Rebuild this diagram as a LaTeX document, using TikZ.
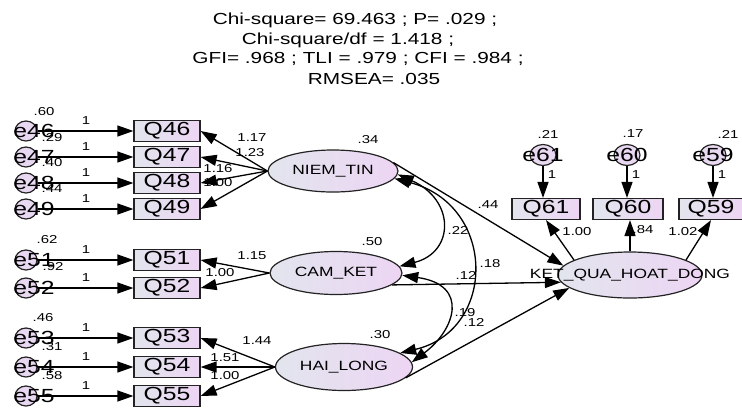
\documentclass[tikz,border=0pt]{standalone}
\usepackage{fontspec}
\setmainfont[FakeStretch=1.3]{Liberation Sans}
\usetikzlibrary{arrows.meta,shapes.geometric,calc}
\definecolor{boxl}{RGB}{226,229,238}
\definecolor{boxr}{RGB}{237,213,243}
\definecolor{errc}{RGB}{233,216,241}
\definecolor{edge}{RGB}{35,35,35}
\begin{document}
\begin{tikzpicture}[x=1pt,y=-1pt,
  obs/.style={draw=edge, line width=1.2pt, minimum width=66pt, minimum height=21pt, inner sep=0pt, left color=boxl, right color=boxr, font=\fontsize{19}{19}\selectfont},
  lat/.style={ellipse, draw=edge, line width=1.2pt, inner sep=0pt, left color=boxl, right color=boxr},
  lattext/.style={font=\fontsize{13.4}{13.4}\selectfont, inner sep=0pt},
  err/.style={ellipse, draw=edge, line width=1.2pt, minimum width=22pt, minimum height=20pt, inner sep=0pt, fill=errc},
  errt/.style={font=\fontsize{19}{19}\selectfont, inner sep=0pt},
  num/.style={font=\fontsize{11.5}{11.5}\selectfont, inner sep=0pt},
  ttl/.style={font=\fontsize{16}{16}\selectfont, inner sep=0pt},
  arr/.style={-{Triangle[length=16pt,width=11pt]}, line width=1.3pt},
  darr/.style={{Triangle[length=16pt,width=11pt]}-{Triangle[length=16pt,width=11pt]}, line width=1.3pt},
]
\useasboundingbox (0,0) rectangle (742,408);

% title
\node[ttl] (t1) at (355,20) {Chi-square= 69.463 ; P= .029 ;};
\node[ttl] (t2) at (348,40) {Chi-square/df = 1.418 ;};
\node[ttl] (t3) at (358,59) {GFI= .968 ; TLI = .979 ; CFI = .984 ;};
\node[ttl] (t4) at (374,79) {RMSEA= .035};

% latent variables
\node[lat, minimum width=130pt, minimum height=42pt] (nt) at (333,171) {};
\node[lattext] (ntt) at (nt) {NIEM\_TIN};
\node[lat, minimum width=132pt, minimum height=43pt] (ck) at (336,273) {};
\node[lattext] (ckt) at (ck) {CAM\_KET};
\node[lat, minimum width=137pt, minimum height=47pt] (hl) at (344,367) {};
\node[lattext] (hlt) at (hl) {HAI\_LONG};
\node[lat, minimum width=144pt, minimum height=46pt] (kq) at (630,275) {};

\node[num] (vnt) at (368,140) {.34};
\node[num] (vck) at (372,242) {.50};
\node[num] (vhl) at (380,335) {.30};

% left indicators
\foreach \n/\y in {46/131,47/157,48/183,49/209,51/260,52/288,53/338,54/367,55/396}{
  \node[err] (e\n) at (26,\y) {};
  \node[obs] (q\n) at (167,\y) {Q\n};
  \draw[arr] (e\n) -- (q\n);
  \node[errt] (et\n) at ($(e\n)+(8,0)$) {e\n};
  \node[num] (one\n) at (86,{\y-10}) {1};
}
\node[num] (v46) at (44,112) {.60};
\node[num] (v47) at (52,138) {.29};
\node[num] (v48) at (52,163) {.40};
\node[num] (v49) at (52,189) {.44};
\node[num] (v51) at (47,240) {.62};
\node[num] (v52) at (53,267) {.92};
\node[num] (v53) at (43,318) {.46};
\node[num] (v54) at (52,347) {.31};
\node[num] (v55) at (52,376) {.58};

% loadings
\foreach \n in {46,47,48,49}{\draw[arr] (nt.west) -- (q\n.east);}
\foreach \n in {51,52}{\draw[arr] (ck.west) -- (q\n.east);}
\foreach \n in {53,54,55}{\draw[arr] (hl.west) -- (q\n.east);}
\node[num] (l46) at (252,138) {1.17};
\node[num] (l47) at (250,153) {1.23};
\node[num] (l48) at (218,169) {1.16};
\node[num] (l49) at (218,183) {1.00};
\node[num] (l51) at (252,256) {1.15};
\node[num] (l52) at (220,273) {1.00};
\node[num] (l53) at (257,341) {1.44};
\node[num] (l54) at (225,358) {1.51};
\node[num] (l55) at (225,376) {1.00};

% top indicators
\node[obs, minimum width=68pt] (q61) at (546,209) {Q61};
\node[obs, minimum width=70pt] (q60) at (628,209) {Q60};
\node[obs, minimum width=64pt] (q59) at (711,209) {Q59};
\node[err, minimum width=26pt, minimum height=21pt] (e61) at (543,155) {};
\node[err, minimum width=26pt, minimum height=21pt] (e60) at (627,155) {};
\node[err, minimum width=26pt, minimum height=21pt] (e59) at (713,155) {};
\draw[arr] (e61.south) -- (e61.south |- q61.north);
\draw[arr] (e60.south) -- (e60.south |- q60.north);
\draw[arr] (e59.south) -- (e59.south |- q59.north);
\node[errt] (et61) at (e61) {e61};
\node[errt] (et60) at (e60) {e60};
\node[errt] (et59) at (e59) {e59};
\node[num] (v61) at (548,134) {.21};
\node[num] (v60) at (633,134) {.17};
\node[num] (v59) at (728,134) {.21};
\node[num] (o61) at (552,175) {1};
\node[num] (o60) at (636,175) {1};
\node[num] (o59) at (722,175) {1};

\draw[arr] (kq.165) -- (q61.south);
\draw[arr] (kq.north) -- (kq.north |- q60.south);
\draw[arr] (kq.15) -- (q59.south);
\node[num] (l61) at (577,232) {1.00};
\node[num] (l60) at (643,230) {.84};
\node[num] (l59) at (683,232) {1.02};

% structural paths
\draw[arr] (nt.8) -- (kq.172);
\draw[arr] (ck.348) -- (kq.186);
\draw[arr] (hl.350) -- (kq.192);
\node[num] (r1) at (488,205) {.44};
\node[num] (r2) at (466,275) {.12};
\node[num] (r3) at (474,322) {.12};

% covariances
\draw[darr] (nt.357) .. controls (455,200) and (455,252) .. (ck.6);
\draw[darr] (nt.353) .. controls (497,205) and (497,330) .. (hl.14);
\draw[darr] (ck.358) .. controls (470,285) and (455,330) .. (hl.4);
\node[num] (c1) at (458,230) {.22};
\node[num] (c2) at (490,264) {.18};
\node[num] (c3) at (465,313) {.19};

\node[lattext] (kqt) at (kq) {KET\_QUA\_HOAT\_DONG};
\end{tikzpicture}
\end{document}
